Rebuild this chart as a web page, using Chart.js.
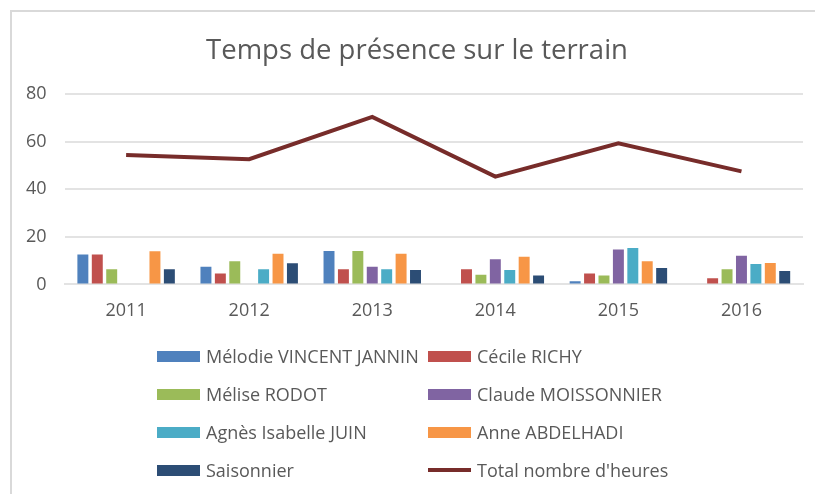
<!DOCTYPE html>
<html>
<head>
<meta charset="utf-8">
<script src="https://cdn.jsdelivr.net/npm/chart.js@4.4.1/dist/chart.umd.min.js"></script>
<style>
    body { margin: 0; background: #fff; }
    #wrap { position: relative; width: 815px; height: 494px; overflow: hidden; font-family: "Open Sans", sans-serif; }
    #frame { position: absolute; left: 10px; top: 10px; right: -4px; bottom: -4px; border-left: 2px solid #d9d9d9; border-top: 2px solid #d9d9d9; }
    #chart { position: absolute; left: 0; top: 0; }
    #title { position: absolute; left: 117px; width: 600px; top: 33px; line-height: 32px; text-align: center; font-size: 27.5px; color: #595959; white-space: nowrap; }
    #legend { position: absolute; left: 0; top: 0; width: 815px; height: 494px; }
    .item { position: absolute; height: 24px; display: flex; align-items: center; font-size: 18px; color: #595959; white-space: nowrap; }
    .swatch { width: 43px; margin-right: 6px; }
</style>
</head>
<body>
<div id="wrap">
    <div id="frame"></div>
    <canvas id="chart" width="815" height="494"></canvas>
    <div id="title"></div>
    <div id="legend"></div>
</div>
<script>
// Data
const chartTitle = 'Temps de présence sur le terrain';
const years = ['2011', '2012', '2013', '2014', '2015', '2016'];
const names = ['Mélodie VINCENT JANNIN', 'Cécile RICHY', 'Mélise RODOT', 'Claude MOISSONNIER',
    'Agnès Isabelle JUIN', 'Anne ABDELHADI', 'Saisonnier'];
const melodie = [12.6, 7.4, 14.0, 0, 1.3, 0];
const cecile = [12.6, 4.6, 6.4, 6.4, 4.6, 2.6];
const melise = [6.4, 9.7, 14.0, 4.1, 3.7, 6.4];
const claude = [0, 0, 7.4, 10.6, 14.7, 12.0];
const agnes = [0, 6.4, 6.4, 6.0, 15.3, 8.6];
const anne = [13.9, 12.9, 12.9, 11.6, 9.7, 9.0];
const saisonnier = [6.4, 8.9, 6.0, 3.7, 6.9, 5.6];
const totalLabel = "Total nombre d'heures";
const total = [54.4, 52.6, 70.4, 45.3, 59.3, 47.5];

const barSeries = [melodie, cecile, melise, claude, agnes, anne, saisonnier];
const barColors = ['#4F81BD', '#C0504D', '#9BBB59', '#8064A2', '#4BACC6', '#F79646', '#2C4D75'];
const lineColor = '#772C2A';
const textColor = '#595959';
const gridColor = '#e3e3e3';

function buildDatasets() {
    const datasets = barSeries.map((values, i) => ({
        type: 'bar',
        label: names[i],
        data: values,
        backgroundColor: barColors[i],
        categoryPercentage: 0.82,
        barPercentage: 0.76,
        order: 2
    }));
    datasets.push({
        type: 'line',
        label: totalLabel,
        data: total,
        borderColor: lineColor,
        backgroundColor: lineColor,
        borderWidth: 4,
        pointRadius: 0,
        tension: 0,
        order: 1
    });
    return datasets;
}

function buildLegend() {
    // Two-column legend like the original, generated from the series names
    const legend = document.getElementById('legend');
    const labels = names.concat([totalLabel]);
    const colors = barColors.concat([lineColor]);
    labels.forEach((label, i) => {
        const col = i % 2;
        const row = Math.floor(i / 2);
        const item = document.createElement('div');
        item.className = 'item';
        item.style.left = (col === 0 ? 157 : 428) + 'px';
        item.style.top = (356 + row * 38 - 12) + 'px';
        const sw = document.createElement('span');
        sw.className = 'swatch';
        sw.style.background = colors[i];
        sw.style.height = (i === labels.length - 1 ? 4 : 11) + 'px';
        const tx = document.createElement('span');
        tx.textContent = label;
        item.appendChild(sw);
        item.appendChild(tx);
        legend.appendChild(item);
    });
}

function initializeChart() {
    const ctx = document.getElementById('chart').getContext('2d');
    new Chart(ctx, {
        data: {
            labels: years,
            datasets: buildDatasets()
        },
        options: {
            responsive: false,
            animation: false,
            layout: {
                padding: { left: 8, right: 12, top: 94, bottom: 164 }
            },
            plugins: {
                legend: { display: false },
                tooltip: { enabled: false }
            },
            scales: {
                x: {
                    grid: { display: false },
                    border: { display: true, color: gridColor, width: 2 },
                    ticks: {
                        color: textColor,
                        font: { family: 'Open Sans', size: 18 },
                        padding: 8
                    }
                },
                y: {
                    min: 0,
                    max: 80,
                    grid: { color: gridColor, lineWidth: 2, drawTicks: false },
                    border: { display: false },
                    ticks: {
                        stepSize: 20,
                        color: textColor,
                        font: { family: 'Open Sans', size: 18 },
                        padding: 18
                    }
                }
            }
        }
    });
}

document.addEventListener('DOMContentLoaded', function() {
    document.getElementById('title').textContent = chartTitle;
    buildLegend();
    document.fonts.load('18px "Open Sans"').then(initializeChart, initializeChart);
});
</script>
</body>
</html>
